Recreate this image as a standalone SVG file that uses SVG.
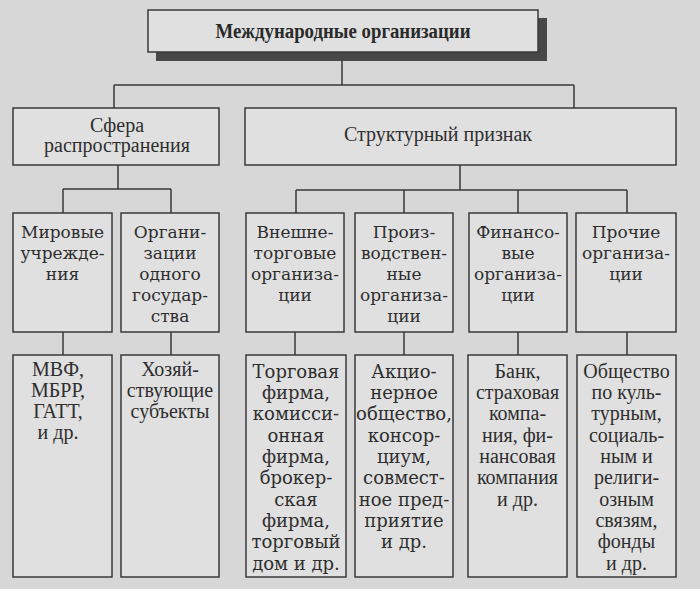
<svg xmlns="http://www.w3.org/2000/svg" width="700" height="589" viewBox="0 0 700 589">
<style>
.box{fill:#e0e0e0;stroke:#3a3a3a;stroke-width:1.5}
.ln{fill:none;stroke:#3a3a3a;stroke-width:1.5}
.t{font-family:"Liberation Serif","Times New Roman",serif;font-size:20px;fill:#2e2e2e;text-anchor:middle}
.w{font-family:"DejaVu Serif",serif;font-size:17px;fill:#2e2e2e;text-anchor:middle}
.w4{font-family:"DejaVu Serif",serif;font-size:18px;fill:#2e2e2e;text-anchor:middle}
.title{font-family:"Liberation Serif","Times New Roman",serif;font-size:20px;font-weight:bold;fill:#2a2a2a;text-anchor:middle}
</style>
<rect width="700" height="589" fill="#d7d7d7"/>
<g id="connectors">
<path class="ln" d="M342 61V85M114 85H574M114 85V108M574 85V108"/>
<path class="ln" d="M118 165V189M63 189H171M63 189V213M171 189V213"/>
<path class="ln" d="M460 165V190M296 190H627M296 190V213M404 190V213M518 190V213M627 190V213"/>
<path class="ln" d="M63 332V355M171 332V355M295 332V355M404 332V355M518 332V355M627 332V355"/>
</g>
<g id="n-root">
<rect x="156" y="18" width="391" height="43" fill="#474747"/>
<rect class="box" x="148" y="10" width="390" height="42"/>
<text class="title" x="343" y="38" textLength="255" lengthAdjust="spacingAndGlyphs">Международные организации</text>
</g>
<g id="n-sfera">
<rect class="box" x="13" y="108" width="206" height="57"/>
<text class="t" x="117" y="132" font-size="21">Сфера</text>
<text class="t" x="117" y="152" font-size="21">распространения</text>
</g>
<g id="n-struct">
<rect class="box" x="245" y="108" width="431" height="57"/>
<text class="t" x="438" y="141" font-size="21.5">Структурный признак</text>
</g>
<g id="n-mir">
<rect class="box" x="13" y="213" width="99" height="119"/>
<text class="w" x="62.5"><tspan x="62.5" y="238">Мировые</tspan><tspan x="62.5" y="259">учрежде-</tspan><tspan x="62.5" y="280">ния</tspan></text>
</g>
<g id="n-odn">
<rect class="box" x="121" y="213" width="98" height="119"/>
<text class="w" x="170"><tspan x="170" y="238">Органи-</tspan><tspan x="170" y="259">зации</tspan><tspan x="170" y="280">одного</tspan><tspan x="170" y="301">государ-</tspan><tspan x="170" y="322">ства</tspan></text>
</g>
<g id="n-vnesh">
<rect class="box" x="246" y="213" width="98" height="119"/>
<text class="w" x="295"><tspan x="295" y="238">Внешне-</tspan><tspan x="295" y="259">торговые</tspan><tspan x="295" y="280">организа-</tspan><tspan x="295" y="301">ции</tspan></text>
</g>
<g id="n-proizv">
<rect class="box" x="355" y="213" width="98" height="119"/>
<text class="w" x="404"><tspan x="404" y="238">Произ-</tspan><tspan x="404" y="259">водствен-</tspan><tspan x="404" y="280">ные</tspan><tspan x="404" y="301">организа-</tspan><tspan x="404" y="322">ции</tspan></text>
</g>
<g id="n-fin">
<rect class="box" x="469" y="213" width="98" height="119"/>
<text class="w" x="518"><tspan x="518" y="238">Финансо-</tspan><tspan x="518" y="259">вые</tspan><tspan x="518" y="280">организа-</tspan><tspan x="518" y="301">ции</tspan></text>
</g>
<g id="n-proch">
<rect class="box" x="576" y="213" width="100" height="119"/>
<text class="w" x="626"><tspan x="626" y="238">Прочие</tspan><tspan x="626" y="259">организа-</tspan><tspan x="626" y="280">ции</tspan></text>
</g>
<g id="n-mvf">
<rect class="box" x="13" y="355" width="99" height="222"/>
<text class="t" x="62.5"><tspan x="58" y="376">МВФ,</tspan><tspan x="58" y="397">МБРР,</tspan><tspan x="58" y="418">ГАТТ,</tspan><tspan x="58" y="439">и др.</tspan></text>
</g>
<g id="n-hoz">
<rect class="box" x="121" y="355" width="98" height="222"/>
<text class="t" x="170"><tspan x="170" y="376">Хозяй-</tspan><tspan x="170" y="397">ствующие</tspan><tspan x="170" y="418">субъекты</tspan></text>
</g>
<g id="n-torg">
<rect class="box" x="246" y="355" width="100" height="222"/>
<text class="w4" x="296"><tspan x="296" y="378">Торговая</tspan><tspan x="296" y="399">фирма,</tspan><tspan x="296" y="420">комисси-</tspan><tspan x="296" y="442">онная</tspan><tspan x="296" y="463">фирма,</tspan><tspan x="296" y="484">брокер-</tspan><tspan x="296" y="506">ская</tspan><tspan x="296" y="527">фирма,</tspan><tspan x="296" y="548">торговый</tspan><tspan x="296" y="570">дом и др.</tspan></text>
</g>
<g id="n-akc">
<rect class="box" x="355" y="355" width="98" height="222"/>
<text class="w4" x="404"><tspan x="404" y="378">Акцио-</tspan><tspan x="404" y="399">нерное</tspan><tspan x="404" y="420">общество,</tspan><tspan x="404" y="442">консор-</tspan><tspan x="404" y="463">циум,</tspan><tspan x="404" y="484">совмест-</tspan><tspan x="404" y="506">ное пред-</tspan><tspan x="404" y="527">приятие</tspan><tspan x="404" y="548">и др.</tspan></text>
</g>
<g id="n-bank">
<rect class="box" x="468" y="355" width="99" height="222"/>
<text class="t" x="517.5"><tspan x="517.5" y="378">Банк,</tspan><tspan x="517.5" y="399">страховая</tspan><tspan x="517.5" y="420">компа-</tspan><tspan x="517.5" y="442">ния, фи-</tspan><tspan x="517.5" y="463">нансовая</tspan><tspan x="517.5" y="484">компания</tspan><tspan x="517.5" y="506">и др.</tspan></text>
</g>
<g id="n-obsh">
<rect class="box" x="577" y="355" width="99" height="222"/>
<text class="t" x="626.5"><tspan x="626.5" y="378">Общество</tspan><tspan x="626.5" y="399">по куль-</tspan><tspan x="626.5" y="420">турным,</tspan><tspan x="626.5" y="442">социаль-</tspan><tspan x="626.5" y="463">ным и</tspan><tspan x="626.5" y="484">религи-</tspan><tspan x="626.5" y="506">озным</tspan><tspan x="626.5" y="527">связям,</tspan><tspan x="626.5" y="548">фонды</tspan><tspan x="626.5" y="570">и др.</tspan></text>
</g>
</svg>
